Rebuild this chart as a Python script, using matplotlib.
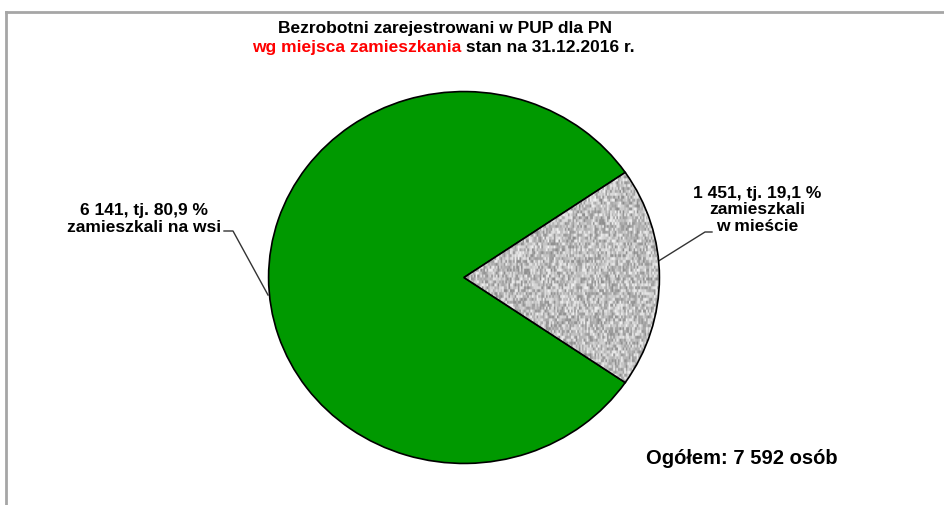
import numpy as np
import matplotlib
matplotlib.use("Agg")
import matplotlib.pyplot as plt
from matplotlib.lines import Line2D

plt.rcParams['font.family'] = ['Liberation Sans', 'DejaVu Sans']

# --- Data ---
categories = ["zamieszkali\nw mieście", "zamieszkali na wsi"]
counts = [1451, 6141]
percents = ["19,1", "80,9"]
count_labels = ["1 451", "6 141"]
total_label = "Ogółem: 7 592 osób"
title_line1 = "Bezrobotni zarejestrowani w PUP dla PN"
title_red = "wg miejsca zamieszkania"
title_rest = " stan na 31.12.2016 r."

W, H = 945, 506
fig = plt.figure(figsize=(W / 100, H / 100), dpi=100)

# text / leader lines axes in pixel coords (y from top)
ax = fig.add_axes([0, 0, 1, 1])
ax.set_xlim(0, W)
ax.set_ylim(H, 0)
ax.axis("off")

# pie axes (slightly wider than tall, like the source)
px0, px1, py0, py1 = 268, 660, 92, 465
ax_pie = fig.add_axes([px0 / W, 1 - py1 / H, (px1 - px0) / W, (py1 - py0) / H])
start = -360 * counts[0] / sum(counts) / 2
wedges, _ = ax_pie.pie(counts, colors=["#c8c8c8", "#009900"], startangle=start,
                       wedgeprops=dict(edgecolor="black", linewidth=1.2))
ax_pie.set_aspect("auto")
ax_pie.axis("off")

# speckled gray texture for the city slice
rng = np.random.default_rng(3)
noise = rng.random((130, 130))
noise = np.kron(noise, np.ones((2, 2)))
img = ax_pie.imshow(noise, cmap="gray", vmin=-1.4, vmax=1.15, extent=(-0.02, 1.02, -1.02, 1.02),
                    interpolation="bilinear", zorder=1.5, aspect="auto")
img.set_clip_path(wedges[0])
wedges[0].set_facecolor("none")
wedges[0].set_zorder(3)
ax_pie.set_xlim(-1.003, 1.003)
ax_pie.set_ylim(-1.003, 1.003)

# labels
lab_kw = dict(fontsize=12.5, fontweight="bold", ha="center", va="center", linespacing=1.15)
ax.text(144, 219, f"{count_labels[1]}, tj. {percents[1]} %\n{categories[1]}", **lab_kw)
ax.text(757, 210, f"{count_labels[0]}, tj. {percents[0]} %\n{categories[0]}", **lab_kw)
ax.plot([224, 233, 268], [232, 232, 296], color="#333333", lw=1)
ax.plot([712, 705, 657], [233, 233, 263], color="#333333", lw=1)

ax.text(742, 459, total_label, fontsize=14.5, fontweight="bold", ha="center", va="center")

# title
ax.text(445, 28, title_line1, fontsize=12.5, fontweight="bold", ha="center", va="center")
renderer = fig.canvas.get_renderer()
t1 = ax.text(0, 0, title_red, fontsize=12.5, fontweight="bold", color="#ff0000", va="center")
t2 = ax.text(0, 0, title_rest, fontsize=12.5, fontweight="bold", color="black", va="center")
w1 = t1.get_window_extent(renderer).width
w2 = t2.get_window_extent(renderer).width
x0 = 443 - (w1 + w2) / 2
t1.set_position((x0, 47))
t2.set_position((x0 + w1, 47))

# frame lines (top and left)
fig.add_artist(Line2D([6 / W, 1], [1 - 13 / H, 1 - 13 / H], color="#a6a6a6", lw=2, transform=fig.transFigure))
fig.add_artist(Line2D([6 / W, 6 / W], [0, 1 - 13 / H], color="#a6a6a6", lw=2, transform=fig.transFigure))

fig.savefig("out.png", dpi=100)
